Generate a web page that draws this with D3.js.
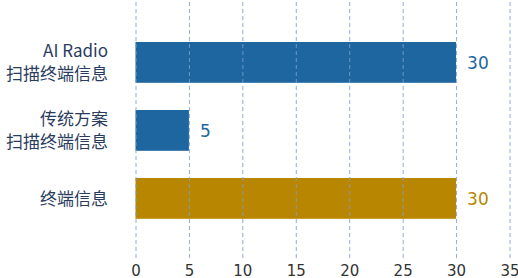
<!DOCTYPE html>
<html>
<head>
<meta charset="utf-8">
<script src="https://cdn.jsdelivr.net/npm/d3@7"></script>
<style>
	body { margin: 0; background: #fff; }
	text { font-family: "DejaVu Sans", "Noto Sans CJK SC", sans-serif; }
</style>
</head>
<body>
<div id="chart"></div>
<script>
// categories (each one split in lines) and values
var categories = ["AI Radio扫描终端信息", "传统方案扫描终端信息", "终端信息"];
var labelLines = [["AI Radio", "扫描终端信息"], ["传统方案", "扫描终端信息"], ["终端信息"]];
var values = [30, 5, 30];
var barColors = ["#1d66a0", "#1d66a0", "#b88600"];
var xTicks = [0, 5, 10, 15, 20, 25, 30, 35];

var width = 518, height = 278;

var svg = d3.select("#chart").append("svg")
	.attr("width", width).attr("height", height);

var x = d3.scaleLinear()
	.domain([0, 35])
	.range([135.5, 509.5]);

var y = d3.scaleBand()
	.domain(categories)
	.range([28.4, 232.4])
	.paddingInner(0.4)
	.paddingOuter(0.2);

// bars
svg.selectAll("rect.bar")
	.data(values)
	.enter().append("rect")
	.attr("class", "bar")
	.attr("x", x(0))
	.attr("y", function(d, i){ return y(categories[i]); })
	.attr("width", function(d){ return x(d) - x(0); })
	.attr("height", y.bandwidth())
	.attr("fill", function(d, i){ return barColors[i]; });

// dashed grid, drawn over the bars
var xAxis = d3.axisBottom(x)
	.tickValues(xTicks)
	.tickSize(-258)
	.tickPadding(4);

var gx = svg.append("g")
	.attr("transform", "translate(0,258)")
	.call(xAxis);
gx.select(".domain").remove();
gx.selectAll(".tick line")
	.attr("stroke", "#7f9dcc")
	.attr("stroke-opacity", 0.85)
	.attr("stroke-dasharray", "4,3");
gx.selectAll(".tick text")
	.attr("fill", "#333")
	.style("font-family", "'DejaVu Sans', sans-serif")
	.style("font-size", "15px")
	.attr("dy", "0.9em");

// value labels
svg.selectAll("text.val")
	.data(values)
	.enter().append("text")
	.attr("class", "val")
	.attr("x", function(d){ return x(d) + 11; })
	.attr("y", function(d, i){ return y(categories[i]) + y.bandwidth() / 2; })
	.attr("dy", "0.36em")
	.attr("fill", function(d, i){ return barColors[i]; })
	.style("font-family", "'DejaVu Sans', sans-serif")
	.style("font-weight", "500")
	.style("font-size", "17px")
	.text(function(d){ return d; });

// category labels
labelLines.forEach(function(lines, i){
	var cy = y(categories[i]) + y.bandwidth() / 2;
	var lh = 23;
	var t = svg.append("text")
		.attr("text-anchor", "end")
		.attr("fill", "#2a3c5e")
		.style("font-size", "17px")
		.style("font-family", "'Noto Sans CJK SC', 'DejaVu Sans', sans-serif");
	lines.forEach(function(s, k){
		t.append("tspan")
			.attr("x", 108)
			.attr("y", cy + (k - (lines.length - 1) / 2) * lh)
			.attr("dy", "0.36em")
			.text(s);
	});
});
</script>
</body>
</html>
